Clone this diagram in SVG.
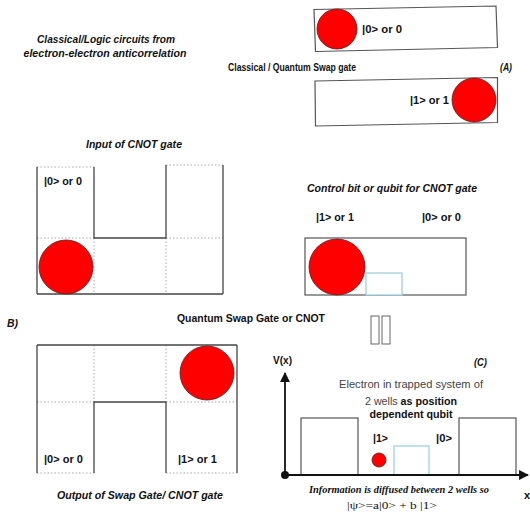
<svg xmlns="http://www.w3.org/2000/svg" width="530" height="519" viewBox="0 0 530 519">
<defs>
<style>
text{font-family:"Liberation Sans",Arial,sans-serif;fill:#111;}
.b{font-weight:bold;font-size:11px;}
.bi{font-weight:bold;font-style:italic;font-size:11px;}
.lab{font-weight:bold;font-size:10.5px;}
.ser{font-family:"Liberation Serif","Times New Roman",serif;}
.box{fill:#fff;stroke:#555;stroke-width:1.2;}
.solid{fill:none;stroke:#444;stroke-width:1.3;}
.dot{fill:none;stroke:#aaa;stroke-width:1;stroke-dasharray:1.5 2;}
.red{fill:#ff0000;stroke:#5a1a1a;stroke-width:0.8;}
.blue{fill:#fff;stroke:#9fd0e0;stroke-width:1.3;}
.axis{stroke:#111;stroke-width:1.8;fill:none;}
</style>
<marker id="arr" viewBox="0 0 10 10" refX="9" refY="5" markerWidth="5.5" markerHeight="5.5" orient="auto" markerUnits="strokeWidth"><path d="M0,0 L10,5 L0,10 z" fill="#111"/></marker>
</defs>
<rect width="530" height="519" fill="#fff"/>

<g id="title-left">
<text class="bi" x="106" y="43" text-anchor="middle" textLength="138" lengthAdjust="spacingAndGlyphs">Classical/Logic circuits from</text>
<text class="bi" x="105" y="57" text-anchor="middle" textLength="163" lengthAdjust="spacingAndGlyphs">electron-electron anticorrelation</text>
</g>

<g id="swap-top">
<polygon class="box" points="314,9.5 496,6 497.5,47.5 315.5,51.5"/>
<circle class="red" cx="337" cy="29" r="20"/>
<text class="lab" x="362" y="33" textLength="40" lengthAdjust="spacingAndGlyphs">|0&gt; or 0</text>
</g>
<g id="swap-label">
<text class="b" x="228" y="71" font-size="10" style="font-size:10px" textLength="128" lengthAdjust="spacingAndGlyphs">Classical / Quantum Swap gate</text>
<text class="bi" x="500" y="71" textLength="12" lengthAdjust="spacingAndGlyphs">(A)</text>
</g>
<g id="swap-bottom">
<polygon class="box" points="315,81 497.5,77.5 497.5,122.5 315.5,126"/>
<circle class="red" cx="474" cy="100" r="22"/>
<text class="lab" x="410" y="104" textLength="39" lengthAdjust="spacingAndGlyphs">|1&gt; or 1</text>
</g>

<g id="cnot-input">
<text class="bi" x="134" y="148" text-anchor="middle" textLength="96" lengthAdjust="spacingAndGlyphs">Input of CNOT gate</text>
<line class="dot" x1="37" y1="167" x2="94" y2="167"/>
<line class="dot" x1="166" y1="165" x2="223" y2="165"/>
<line class="dot" x1="37" y1="238" x2="94" y2="238"/>
<line class="dot" x1="166" y1="238" x2="223" y2="238"/>
<line class="dot" x1="94" y1="238" x2="94" y2="294"/>
<line class="dot" x1="166" y1="238" x2="166" y2="294"/>
<line class="solid" x1="37" y1="167" x2="37" y2="294" stroke="#777"/>
<line class="solid" x1="223" y1="165" x2="223" y2="294" stroke="#888"/>
<polyline class="solid" points="94,167 94,238 166,238 166,165"/>
<line class="solid" x1="37" y1="294" x2="223" y2="294" stroke="#777"/>
<circle class="red" cx="66" cy="267" r="27"/>
<text class="lab" x="44" y="185" textLength="38" lengthAdjust="spacingAndGlyphs">|0&gt; or 0</text>
</g>

<g id="control">
<text class="bi" x="392" y="192" text-anchor="middle" font-weight="normal" textLength="170" lengthAdjust="spacingAndGlyphs">Control bit or qubit for CNOT gate</text>
<text class="lab" x="316" y="221" font-weight="normal" textLength="38" lengthAdjust="spacingAndGlyphs">|1&gt; or 1</text>
<text class="lab" x="422" y="221" font-weight="normal" textLength="39" lengthAdjust="spacingAndGlyphs">|0&gt; or 0</text>
<rect class="box" x="305" y="238" width="161" height="57"/>
<rect class="blue" x="366" y="273" width="36" height="22"/>
<circle class="red" cx="337" cy="267" r="28"/>
</g>

<g id="labels-mid">
<text class="bi" x="7" y="327" textLength="11" lengthAdjust="spacingAndGlyphs">B)</text>
<text class="b" x="177" y="322" textLength="148" lengthAdjust="spacingAndGlyphs">Quantum Swap Gate or CNOT</text>
<rect x="371" y="316" width="8" height="28" fill="#fff" stroke="#666" stroke-width="1"/>
<rect x="382" y="316" width="8" height="28" fill="#fff" stroke="#666" stroke-width="1"/>
</g>

<g id="cnot-output">
<line class="dot" x1="94" y1="345" x2="94" y2="402"/>
<line class="dot" x1="166" y1="345" x2="166" y2="402"/>
<line class="dot" x1="37" y1="402" x2="94" y2="402"/>
<line class="dot" x1="166" y1="402" x2="237" y2="402"/>
<line class="dot" x1="37" y1="473" x2="94" y2="473"/>
<line class="dot" x1="166" y1="473" x2="237" y2="473"/>
<line class="solid" x1="37" y1="345" x2="237" y2="345" stroke="#777"/>
<line class="solid" x1="37" y1="345" x2="37" y2="473" stroke="#777"/>
<line class="solid" x1="237" y1="345" x2="237" y2="473" stroke="#888"/>
<polyline class="solid" points="94,473 94,402 166,402 166,473"/>
<circle class="red" cx="207" cy="373" r="27"/>
<text class="lab" x="44" y="463" textLength="39" lengthAdjust="spacingAndGlyphs">|0&gt; or 0</text>
<text class="lab" x="178" y="463" textLength="39" lengthAdjust="spacingAndGlyphs">|1&gt; or 1</text>
<text class="bi" x="140" y="499" text-anchor="middle" textLength="166" lengthAdjust="spacingAndGlyphs">Output of Swap Gate/ CNOT gate</text>
</g>

<g id="wells">
<text class="b" x="273" y="364" textLength="19" lengthAdjust="spacingAndGlyphs">V(x)</text>
<text class="bi" x="474" y="366" textLength="13" lengthAdjust="spacingAndGlyphs">(C)</text>
<text x="411" y="388" text-anchor="middle" font-size="11" style="fill:#444" textLength="144" lengthAdjust="spacingAndGlyphs">Electron in trapped system of</text>
<text x="411" y="405" text-anchor="middle" font-size="11" textLength="92" lengthAdjust="spacingAndGlyphs"><tspan style="fill:#444">2 wells </tspan><tspan font-weight="bold">as position</tspan></text>
<text class="b" x="411" y="418" text-anchor="middle" textLength="83" lengthAdjust="spacingAndGlyphs">dependent qubit</text>
<rect class="box" x="301" y="418" width="57" height="57"/>
<rect class="box" x="459" y="418" width="57" height="57"/>
<rect class="blue" x="394" y="446" width="35" height="29"/>
<circle class="red" cx="379" cy="460" r="7"/>
<text class="lab" x="373" y="442" textLength="15" lengthAdjust="spacingAndGlyphs">|1&gt;</text>
<text class="lab" x="436" y="442" textLength="16" lengthAdjust="spacingAndGlyphs">|0&gt;</text>
<text class="ser" x="399" y="493" text-anchor="middle" font-size="11" font-weight="bold" font-style="italic" textLength="180" lengthAdjust="spacingAndGlyphs">Information is diffused between 2 wells so</text>
<text class="ser" x="392" y="509" text-anchor="middle" font-size="11" textLength="90" lengthAdjust="spacingAndGlyphs">|ψ&gt;=a|0&gt; + b |1&gt;</text>
<text class="b" x="524" y="499">x</text>
</g>

<g id="connectors">
<line class="axis" x1="285" y1="475" x2="285" y2="373" marker-end="url(#arr)"/>
<line class="axis" x1="285" y1="475" x2="528" y2="475" marker-end="url(#arr)"/>
<circle cx="285" cy="475" r="4" fill="#111"/>
</g>
</svg>
